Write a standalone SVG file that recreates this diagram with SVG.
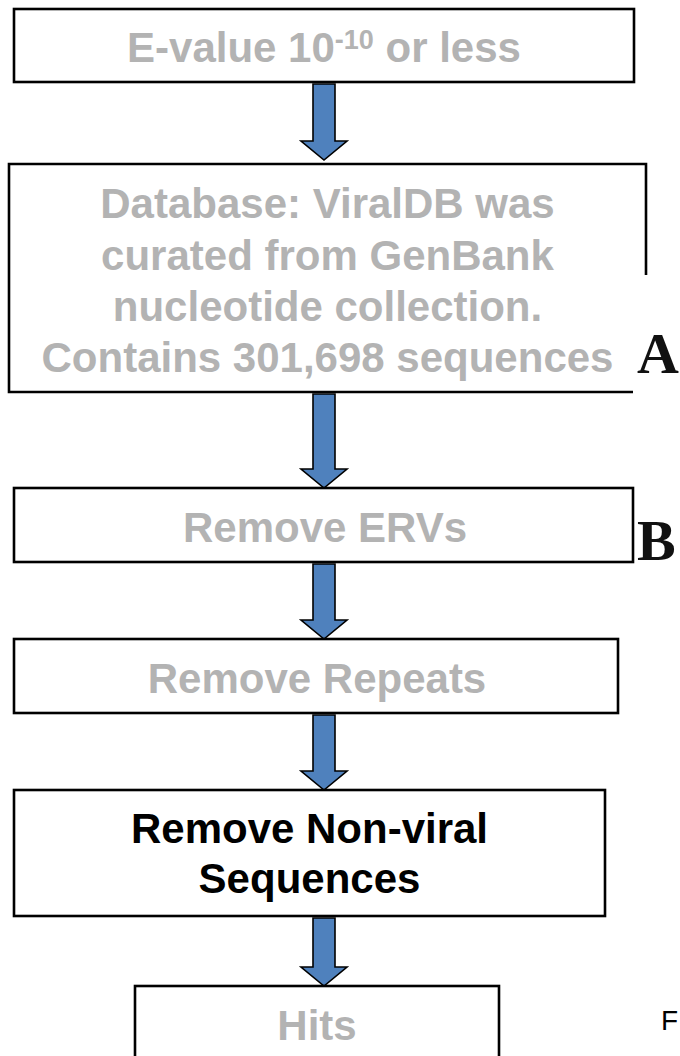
<svg xmlns="http://www.w3.org/2000/svg" width="680" height="1056" viewBox="0 0 680 1056">
<style>
.box{fill:#ffffff;stroke:#000000;stroke-width:2.6}
.edge{fill:none;stroke:#000000;stroke-width:2.6}
.t{font-family:"Liberation Sans",Arial,sans-serif;font-weight:bold;font-size:42px;text-anchor:middle}
.g{fill:#b3b3b3}
.k{fill:#000000}
.lab{font-family:"Liberation Serif","Times New Roman",serif;font-weight:bold;font-size:58px;fill:#111111}
.arrow{fill:#4f81bd;stroke:#000000;stroke-width:1.6;stroke-linejoin:miter}
</style>
<rect width="680" height="1056" fill="#ffffff"/>
<g id="connectors">
<path class="arrow" d="M313,84 H335 V141 H347 L324,160 L301,141 H313 Z"/>
<path class="arrow" d="M313,394 H335 V469 H347 L324,488 L301,469 H313 Z"/>
<path class="arrow" d="M313,564 H335 V620 H347 L324,639 L301,620 H313 Z"/>
<path class="arrow" d="M313,715 H335 V771 H347 L324,790 L301,771 H313 Z"/>
<path class="arrow" d="M313,918 H335 V967 H347 L324,986 L301,967 H313 Z"/>
</g>
<g id="n1">
<rect class="box" x="14" y="9" width="620" height="73"/>
<text class="t g" x="324" y="62">E-value 10<tspan font-size="27" dy="-13">-10</tspan><tspan dy="13"> or less</tspan></text>
</g>
<g id="n2">
<path class="edge" d="M646,275 V164 H9 V392 H633"/>
<text class="t g" x="327.5" y="218">Database: ViralDB was</text>
<text class="t g" x="327.5" y="269.5">curated from GenBank</text>
<text class="t g" x="327.5" y="321">nucleotide collection.</text>
<text class="t g" x="327.5" y="372">Contains 301,698 sequences</text>
</g>
<g id="labelA">
<text class="lab" x="637" y="373">A</text>
</g>
<g id="n3">
<rect class="box" x="14" y="488" width="619" height="74"/>
<text class="t g" x="325" y="542">Remove ERVs</text>
</g>
<g id="labelB">
<text class="lab" x="637" y="560">B</text>
</g>
<g id="n4">
<rect class="box" x="14" y="639" width="604" height="74"/>
<text class="t g" x="317" y="693">Remove Repeats</text>
</g>
<g id="n5">
<rect class="box" x="14" y="790" width="591" height="126"/>
<text class="t k" x="309.5" y="843">Remove Non-viral</text>
<text class="t k" x="309.5" y="893">Sequences</text>
</g>
<g id="n6">
<rect class="box" x="135" y="986" width="364" height="80"/>
<text class="t g" x="317" y="1040">Hits</text>
</g>
<g id="labelF">
<text x="661" y="1030" font-family="Liberation Sans,Arial,sans-serif" font-size="28" fill="#000000">F</text>
</g>
</svg>
